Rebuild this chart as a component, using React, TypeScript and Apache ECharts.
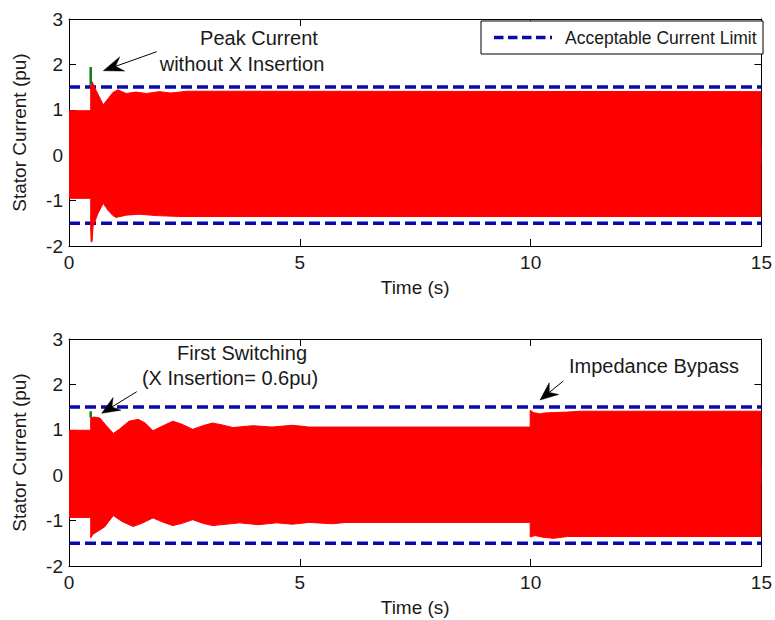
import React, { useEffect, useRef } from "react";
import * as echarts from "echarts";

// Stator current envelopes, [time (s), current (pu)]
const topUpper: [number, number][] = [
  [0, 0.98], [0.47, 0.98], [0.47, 1.55], [0.5, 1.62], [0.6, 1.4], [0.74, 1.11], [0.85, 1.25],
  [0.95, 1.38], [1.06, 1.44], [1.15, 1.4], [1.24, 1.36], [1.45, 1.39], [1.68, 1.36], [1.96, 1.4],
  [2.2, 1.37], [2.4, 1.39], [2.55, 1.41], [15, 1.4],
];
const topLower: [number, number][] = [
  [0, -0.95], [0.47, -0.95], [0.47, -1.6], [0.48, -1.91], [0.5, -1.9], [0.52, -1.58], [0.62, -1.3],
  [0.74, -1.06], [0.85, -1.22], [0.95, -1.33], [1.02, -1.37], [1.24, -1.32], [1.53, -1.3],
  [1.89, -1.33], [2.4, -1.35], [15, -1.35],
];
const topPeak: [number, number][] = [[0.47, 1.55], [0.47, 1.94]];

const bottomUpper: [number, number][] = [
  [0, 0.99], [0.47, 0.99], [0.47, 1.27], [0.55, 1.28], [0.67, 1.26], [0.8, 1.1], [0.96, 0.92],
  [1.1, 1.02], [1.3, 1.19], [1.5, 1.23], [1.65, 1.15], [1.82, 0.98], [2.0, 1.07], [2.25, 1.19],
  [2.45, 1.12], [2.68, 1.01], [2.9, 1.09], [3.11, 1.15], [3.35, 1.1], [3.55, 1.05], [3.98, 1.09],
  [4.4, 1.06], [4.84, 1.1], [5.2, 1.06], [9.99, 1.06], [9.99, 1.43], [10.06, 1.38], [10.2, 1.35],
  [10.3, 1.37], [10.5, 1.38], [10.8, 1.39], [11.1, 1.41], [15, 1.41],
];
const bottomLower: [number, number][] = [
  [0, -0.93], [0.47, -0.93], [0.47, -1.38], [0.52, -1.3], [0.6, -1.25], [0.77, -1.14],
  [0.96, -0.89], [1.15, -1.02], [1.39, -1.13], [1.6, -1.05], [1.82, -0.94], [2.05, -1.04],
  [2.25, -1.11], [2.45, -1.06], [2.68, -0.98], [2.9, -1.06], [3.11, -1.11], [3.7, -1.05],
  [4.1, -1.09], [4.5, -1.05], [4.84, -1.08], [5.2, -1.04], [5.7, -1.07], [6.0, -1.04],
  [9.99, -1.04], [9.99, -1.36], [10.1, -1.33], [10.29, -1.37], [10.5, -1.39], [10.8, -1.35],
  [15, -1.35],
];
const bottomPeak: [number, number][] = [[0.47, 1.27], [0.47, 1.41]];

const currentLimit = 1.5;
const timeRange = [0, 15];
const currentRange = [-2, 3];

const legendText = "Acceptable Current Limit";
const xAxisName = "Time (s)";
const yAxisName = "Stator Current (pu)";

const FONT = "'Liberation Sans', Arial, Helvetica, sans-serif";
const TEXT_COLOR = "#1a1a1a";
const RED = "#ff0000";
const GREEN = "#0f7d12";
const BLUE = "#0a0aa6";

function arrow(tail: [number, number], tip: [number, number], headLen = 20, halfW = 7.5, notch = 13) {
  const dx = tail[0] - tip[0];
  const dy = tail[1] - tip[1];
  const len = Math.hypot(dx, dy);
  const ux = dx / len;
  const uy = dy / len;
  const nx = -uy;
  const ny = ux;
  const p = (l: number, w: number): number[] => [tip[0] + ux * l + nx * w, tip[1] + uy * l + ny * w];
  return [
    {
      type: "line",
      shape: { x1: tail[0], y1: tail[1], x2: p(notch, 0)[0], y2: p(notch, 0)[1] },
      style: { stroke: "#000", lineWidth: 1 },
      z: 20,
    },
    {
      type: "polygon",
      shape: { points: [tip, p(headLen, halfW), p(notch, 0), p(headLen, -halfW)] },
      style: { fill: "#000", stroke: "#000", lineWidth: 0.5 },
      z: 20,
    },
  ];
}

function label(text: string, x: number, y: number) {
  return {
    type: "text",
    x,
    y,
    z: 20,
    style: {
      text,
      fill: TEXT_COLOR,
      font: `20px ${FONT}`,
      align: "center",
      verticalAlign: "middle",
    },
  };
}

function axesFor(grid: number) {
  const axisLine = { show: true, onZero: false, lineStyle: { color: "#000", width: 1 } };
  const tick = { show: true, inside: true, length: 7, lineStyle: { color: "#000" } };
  const xBase = {
    type: "value",
    gridIndex: grid,
    min: timeRange[0],
    max: timeRange[1],
    interval: 5,
    axisLine,
    axisTick: tick,
    splitLine: { show: false },
  };
  const yBase = {
    type: "value",
    gridIndex: grid,
    min: currentRange[0],
    max: currentRange[1],
    interval: 1,
    axisLine,
    axisTick: tick,
    splitLine: { show: false },
  };
  return {
    x: [
      {
        ...xBase,
        position: "bottom",
        axisLabel: { color: TEXT_COLOR, fontSize: 19, fontFamily: FONT, margin: 7 },
        name: xAxisName,
        nameLocation: "middle",
        nameGap: 32,
        nameTextStyle: { color: TEXT_COLOR, fontSize: 19, fontFamily: FONT },
      },
      { ...xBase, position: "top", axisLabel: { show: false } },
    ],
    y: [
      {
        ...yBase,
        position: "left",
        axisLabel: { color: TEXT_COLOR, fontSize: 19, fontFamily: FONT, margin: 6 },
        name: yAxisName,
        nameLocation: "middle",
        nameGap: 40,
        nameTextStyle: { color: TEXT_COLOR, fontSize: 19, fontFamily: FONT },
      },
      { ...yBase, position: "right", axisLabel: { show: false } },
    ],
  };
}

function panelSeries(grid: number, upper: [number, number][], lower: [number, number][], peak: [number, number][]) {
  const xi = grid * 2;
  const yi = grid * 2;
  // each half of the band fills a little past zero so the two halves overlap
  const band = (data: [number, number][], origin: number) => ({
    type: "line",
    xAxisIndex: xi,
    yAxisIndex: yi,
    data,
    showSymbol: false,
    silent: true,
    z: 3,
    lineStyle: { color: RED, width: 1 },
    areaStyle: { color: RED, opacity: 1, origin },
  });
  const limit = (v: number) => ({
    type: "line",
    xAxisIndex: xi,
    yAxisIndex: yi,
    data: [[timeRange[0], v], [timeRange[1], v]],
    showSymbol: false,
    silent: true,
    z: 2,
    lineStyle: { color: BLUE, width: 3.5, type: [11, 5] },
  });
  return [
    limit(currentLimit),
    limit(-currentLimit),
    band(upper, -0.2),
    band(lower, 0.2),
    {
      type: "line",
      xAxisIndex: xi,
      yAxisIndex: yi,
      data: peak,
      showSymbol: false,
      silent: true,
      z: 4,
      lineStyle: { color: GREEN, width: 2.5 },
    },
  ];
}

export default function App() {
  const ref = useRef<HTMLDivElement>(null);

  useEffect(() => {
    if (!ref.current) return;
    const chart = echarts.init(ref.current, undefined, { renderer: "svg" });
    const a0 = axesFor(0);
    const a1 = axesFor(1);

    chart.setOption({
      animation: false,
      backgroundColor: "#fff",
      grid: [
        { left: 69, top: 19, width: 695, height: 227 },
        { left: 69, top: 339, width: 695, height: 227 },
      ],
      xAxis: [...a0.x, ...a1.x],
      yAxis: [...a0.y, ...a1.y],
      series: [
        ...panelSeries(0, topUpper, topLower, topPeak),
        ...panelSeries(1, bottomUpper, bottomLower, bottomPeak),
      ],
      graphic: [
        // legend box
        {
          type: "rect",
          shape: { x: 481, y: 21, width: 282, height: 33 },
          style: { fill: "#fff", stroke: "#000", lineWidth: 1 },
          z: 20,
        },
        {
          type: "line",
          shape: { x1: 494, y1: 37.5, x2: 552, y2: 37.5 },
          style: { stroke: BLUE, lineWidth: 3.5, lineDash: [9.5, 4.5] },
          z: 21,
        },
        {
          type: "text",
          x: 565,
          y: 37.5,
          z: 21,
          style: {
            text: legendText,
            fill: TEXT_COLOR,
            font: `17.5px ${FONT}`,
            align: "left",
            verticalAlign: "middle",
          },
        },
        // annotations
        label("Peak Current", 259, 38),
        label("without X Insertion", 242, 64),
        ...arrow([156.7, 51.7], [103.3, 70.7]),
        label("First Switching", 242, 353),
        label("(X Insertion= 0.6pu)", 230, 378),
        ...arrow([136.7, 391.7], [101.7, 413.3], 18, 7.5, 12),
        label("Impedance Bypass", 654, 366),
        ...arrow([563.3, 381], [540, 400], 18, 7.5, 12),
      ],
    });

    return () => chart.dispose();
  }, []);

  return (
    <div
      ref={ref}
      style={{ position: "absolute", left: 0, top: 0, width: 775, height: 620, background: "#fff" }}
    />
  );
}
